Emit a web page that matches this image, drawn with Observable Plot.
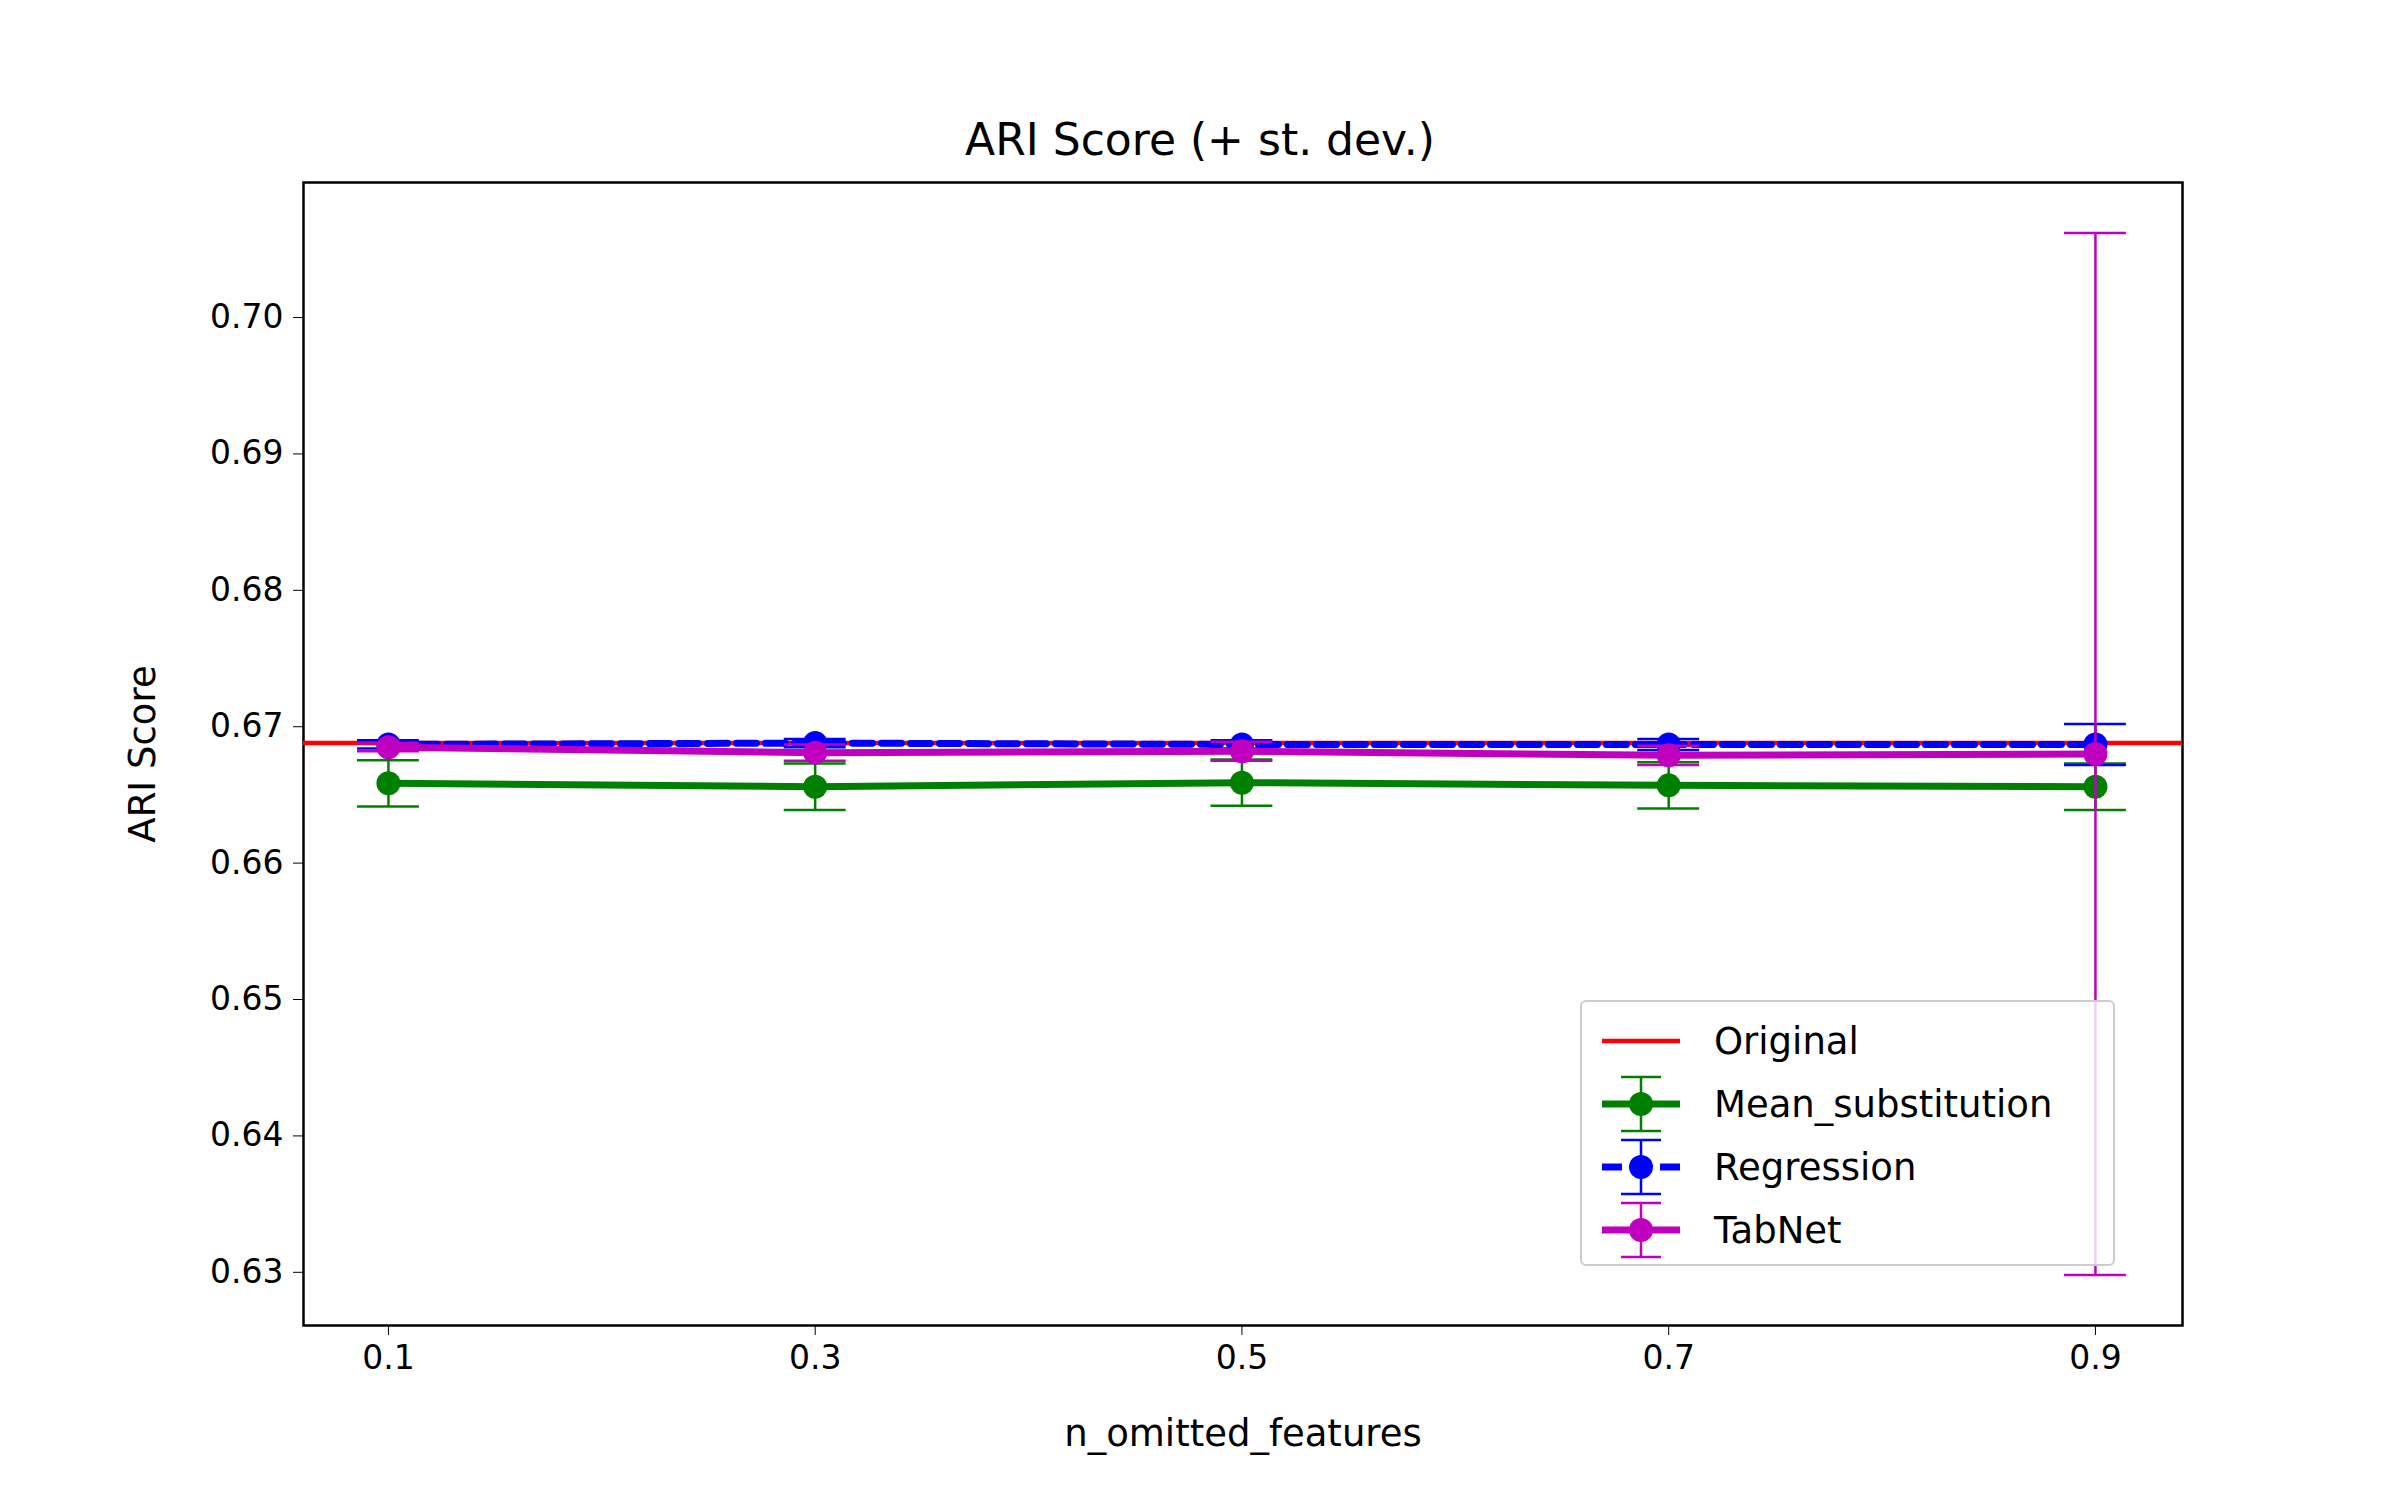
<!DOCTYPE html><html><head><meta charset="utf-8">
<script src="https://cdn.jsdelivr.net/npm/d3@7"></script>
<script src="https://cdn.jsdelivr.net/npm/@observablehq/plot@0.6"></script>
<style>body{margin:0;background:#fff;font-family:"DejaVu Sans",sans-serif;}#wrap{position:relative;width:2400px;height:1500px}
#title{height:170px;text-align:center;font-size:44px;line-height:44px;padding-top:0;box-sizing:border-box;padding-top:118px}
#legend{position:absolute;left:1580px;top:1000px;width:535px;height:266px;border:2px solid #ccc;border-radius:6px;background:rgba(255,255,255,0.8);font-size:37px;box-sizing:border-box;padding:8px 0 0 10px}
.row{display:flex;align-items:center;height:63px}.row svg{margin-right:30px}</style></head><body>
<div id="wrap"><div id="title">ARI Score (+ st. dev.)</div><div id="chart"></div><div id="legend"></div></div>
<script>
const xs=[0.1,0.3,0.5,0.7,0.9];
const original=0.6688;
const meanVals=[0.66585,0.6656,0.6659,0.6657,0.6656];
const meanStd=[0.0017,0.0017,0.0017,0.0017,0.0017];
const regVals=[0.6687,0.6688,0.6687,0.6687,0.6687];
const regStd=[0.0003,0.0003,0.0003,0.0004,0.0015];
const tabVals=[0.6685,0.6681,0.6682,0.6679,0.668];
const tabStd=[0.0003,0.0006,0.0007,0.0007,0.0382];
const series=[{name:"Mean_substitution",color:"green",v:meanVals,s:meanStd,dash:null},
{name:"Regression",color:"blue",v:regVals,s:regStd,dash:"20,9"},
{name:"TabNet",color:"#bf00bf",v:tabVals,s:tabStd,dash:null}];
const capW=0.0145;
const marks=[Plot.frame({stroke:"black",strokeWidth:2.5}),Plot.ruleY([original],{stroke:"red",strokeWidth:4.5})];
for(const s of series){
 const d=xs.map((x,i)=>({x,y:s.v[i],lo:s.v[i]-s.s[i],hi:s.v[i]+s.s[i]}));
 marks.push(Plot.ruleX(d,{x:"x",y1:"lo",y2:"hi",stroke:s.color,strokeWidth:2.5}));
 marks.push(Plot.ruleY(d,{y:"lo",x1:d=>d.x-capW,x2:d=>d.x+capW,stroke:s.color,strokeWidth:2.5}));
 marks.push(Plot.ruleY(d,{y:"hi",x1:d=>d.x-capW,x2:d=>d.x+capW,stroke:s.color,strokeWidth:2.5}));
 marks.push(Plot.line(d,{x:"x",y:"y",stroke:s.color,strokeWidth:7,strokeDasharray:s.dash}));
 marks.push(Plot.dot(d,{x:"x",y:"y",fill:s.color,r:12}));
}
const p=Plot.plot({width:2400,height:1330,marginTop:12,marginBottom:175,marginLeft:303,marginRight:218,
 style:{fontSize:"33px",fontFamily:"DejaVu Sans",background:"white"},
 x:{domain:[0.0602,0.9408],ticks:xs,tickFormat:d3.format(".1f"),tickSize:10,tickPadding:10,label:"n_omitted_features",labelAnchor:"center",labelOffset:120,labelArrow:"none"},
 y:{domain:[0.6261,0.7099],ticks:d3.range(0.63,0.7001,0.01),tickFormat:d3.format(".2f"),tickSize:10,tickPadding:10,label:"ARI Score",labelAnchor:"center",labelOffset:175,labelArrow:"none"},
 marks});
p.querySelectorAll("g[aria-label='x-axis label'] text, g[aria-label='y-axis label'] text").forEach(t=>t.style.fontSize="37px");
document.getElementById("chart").appendChild(p);
const leg=document.getElementById("legend");
const items=[{name:"Original",color:"red",err:false,dash:null},...series.map(s=>({name:s.name,color:s.color,err:true,dash:s.dash}))];
for(const it of items){
 const r=document.createElement("div");r.className="row";
 let svg=`<svg width="92" height="63"><line x1="10" x2="88" y1="31" y2="31" stroke="${it.color}" stroke-width="${it.err?7:4.5}" ${it.dash?`stroke-dasharray="${it.dash}"`:""}/>`;
 if(it.err)svg+=`<line x1="49" x2="49" y1="4" y2="58" stroke="${it.color}" stroke-width="2.5"/><line x1="29" x2="69" y1="4" y2="4" stroke="${it.color}" stroke-width="2.5"/><line x1="29" x2="69" y1="58" y2="58" stroke="${it.color}" stroke-width="2.5"/><circle cx="49" cy="31" r="12" fill="${it.color}"/>`;
 svg+="</svg>";
 r.innerHTML=svg+`<span>${it.name}</span>`;leg.appendChild(r);
}
</script></body></html>
